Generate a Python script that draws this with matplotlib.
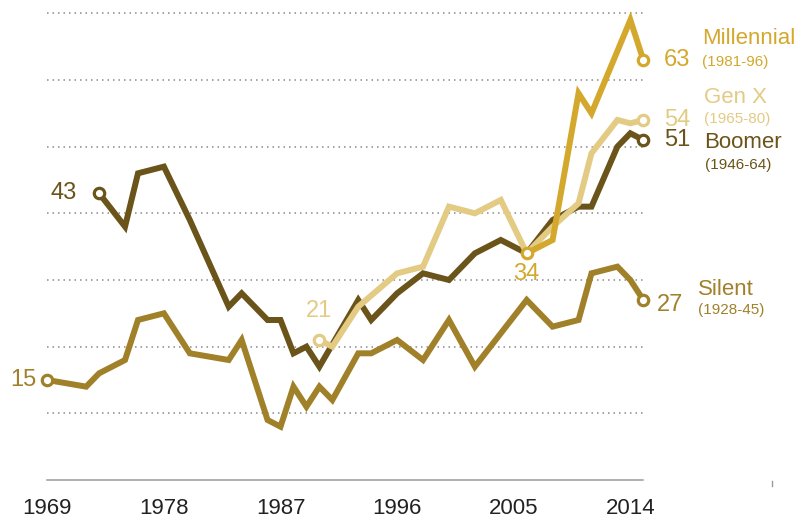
import matplotlib.pyplot as plt

plt.rcParams['font.family'] = ['Liberation Sans', 'DejaVu Sans']

# 各代际数据（年份与数值，从图中读取）
silent_years = [1969, 1972, 1973, 1975, 1976, 1978, 1980, 1983, 1984, 1986, 1987, 1988, 1989, 1990,
                1991, 1993, 1994, 1996, 1998, 2000, 2002, 2006, 2008, 2010, 2011, 2013, 2014, 2015]
silent = [15, 14, 16, 18, 24, 25, 19, 18, 21, 9, 8, 14, 11, 14,
          12, 19, 19, 21, 18, 24, 17, 27, 23, 24, 31, 32, 30, 27]

boomer_years = [1973, 1975, 1976, 1978, 1980, 1983, 1984, 1986, 1987, 1988, 1989, 1990, 1993,
                1994, 1996, 1998, 2000, 2002, 2004, 2006, 2008, 2010, 2011, 2013, 2014, 2015]
boomer = [43, 38, 46, 47, 39, 26, 28, 24, 24, 19, 20, 17, 27,
          24, 28, 31, 30, 34, 36, 34, 39, 41, 41, 50, 52, 51]

genx_years = [1990, 1991, 1993, 1996, 1998, 2000, 2002, 2004, 2006, 2008, 2010, 2011, 2013, 2014, 2015]
genx = [21, 20, 26, 31, 32, 41, 40, 42, 34, 38, 41.5, 49, 54, 53.5, 54]

millennial_years = [2006, 2008, 2010, 2011, 2014, 2015]
millennial = [34, 36, 58, 55, 69, 63]

tick_years = [1969, 1978, 1987, 1996, 2005, 2014]
grid_values = [10, 20, 30, 40, 50, 60, 70]

c_silent = '#A0812A'
c_boomer = '#6A5419'
c_genx = '#E3CB84'
c_mill = '#D4A82C'

fig = plt.figure(figsize=(8.05, 5.2), dpi=100)
ax = fig.add_axes([47.3 / 805, 40 / 520, 596 / 805, 466.7 / 520])
ax.set_xlim(1969, 2015)
ax.set_ylim(0, 70)

# 虚线网格
for g in grid_values:
    ax.plot([1969, 2015], [g, g], color='#8a8a8a', lw=1.1, ls=(0, (1, 2.6)), zorder=1, clip_on=False)

series = [
    (silent_years, silent, c_silent),
    (boomer_years, boomer, c_boomer),
    (genx_years, genx, c_genx),
    (millennial_years, millennial, c_mill),
]
for yrs, vals, col in series:
    ax.plot(yrs, vals, color=col, lw=4.3, solid_joinstyle='miter', solid_capstyle='butt', zorder=3, clip_on=False)
for yrs, vals, col in series:
    ax.plot([yrs[0], yrs[-1]], [vals[0], vals[-1]], ls='none', marker='o', ms=7.5, mfc='white',
            mec=col, mew=2.3, zorder=5, clip_on=False)

# 标签
def lab(x, y, s, dx, dy, col, size=17, ha='left'):
    ax.annotate(s, (x, y), xytext=(dx, dy), textcoords='offset points', color=col,
                fontsize=size, ha=ha, va='center', annotation_clip=False)

# 起点标签
lab(silent_years[0], silent[0], '15', -7.7, 0, c_silent, ha='right')
lab(boomer_years[0], boomer[0], '43', -15.8, 0, c_boomer, ha='right')
lab(genx_years[0], genx[0], '21', 0, 21, c_genx, ha='center')
lab(millennial_years[0], millennial[0], '34', 0, -14.6, c_mill, ha='center')

# 终点标签
lab(millennial_years[-1], millennial[-1], '63', 15, 0, c_mill)
lab(genx_years[-1], genx[-1], '54', 15, 0, c_genx)
lab(boomer_years[-1], boomer[-1], '51', 15, 0, c_boomer)
lab(silent_years[-1], silent[-1], '27', 9.5, -3.6, c_silent)

lab(millennial_years[-1], millennial[-1], 'Millennial', 42.5, 15.6, c_mill, size=16)
lab(millennial_years[-1], millennial[-1], '(1981-96)', 42.5, -1.7, c_mill, size=11)
lab(genx_years[-1], genx[-1], 'Gen X', 43.4, 16.3, c_genx, size=16)
lab(genx_years[-1], genx[-1], '(1965-80)', 43.4, 0.7, c_genx, size=11)
lab(boomer_years[-1], boomer[-1], 'Boomer', 44.1, -1.7, c_boomer, size=16)
lab(boomer_years[-1], boomer[-1], '(1946-64)', 44.1, -17.8, c_boomer, size=11)
lab(silent_years[-1], silent[-1], 'Silent', 39.1, 7.7, c_silent, size=16)
lab(silent_years[-1], silent[-1], '(1928-45)', 39.1, -7.2, c_silent, size=11)

# 坐标轴
for s in ['top', 'right', 'left']:
    ax.spines[s].set_visible(False)
ax.spines['bottom'].set_color('#9a9a9a')
ax.spines['bottom'].set_linewidth(1.1)
ax.set_yticks([])
ax.set_xticks(tick_years)
ax.set_xticklabels([str(t) for t in tick_years])
ax.tick_params(axis='x', length=0, pad=13, labelsize=16, labelcolor='#222222')
ax.plot([2024.9, 2024.9], [-0.15, -0.9], color='#9a9a9a', lw=1, clip_on=False)

fig.savefig('out.png', dpi=100)
